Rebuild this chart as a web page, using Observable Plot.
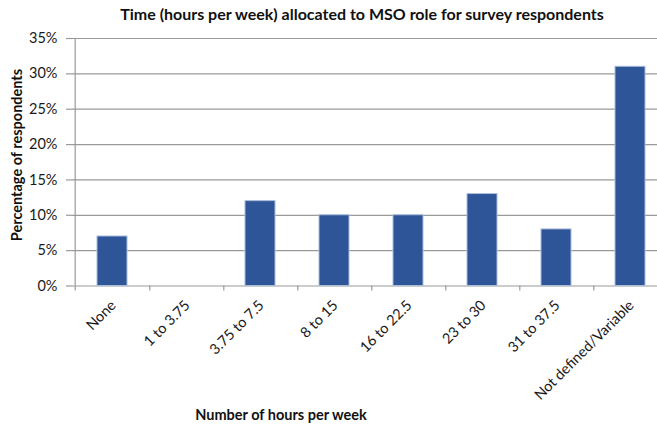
<!DOCTYPE html>
<html>
<head>
<meta charset="utf-8">
<script src="https://cdn.jsdelivr.net/npm/d3@7"></script>
<script src="https://cdn.jsdelivr.net/npm/@observablehq/plot@0.6"></script>
<style>
  html, body { margin: 0; padding: 0; background: #fff; }
  #chart svg { display: block; }
</style>
</head>
<body>
<div id="chart"></div>
<script>
const categories = ["None", "1 to 3.75", "3.75 to 7.5", "8 to 15", "16 to 22.5", "23 to 30", "31 to 37.5", "Not defined/Variable"];
const values = [0.07, 0, 0.12, 0.10, 0.10, 0.13, 0.08, 0.31];
const yTicks = [0, 0.05, 0.10, 0.15, 0.20, 0.25, 0.30, 0.35];
const titleText = "Time (hours per week) allocated to MSO role for survey respondents";
const xLabel = "Number of hours per week";
const yLabel = "Percentage of respondents";

const data = categories.map((c, i) => ({category: c, value: values[i]}));

const W = 657, H = 424;
const font = "Lato, 'Open Sans', sans-serif";
const x0 = 72, x1 = 669;
const step = (x1 - x0) / categories.length;
const grey = "#9a9a9a";

const chart = Plot.plot({
  width: W,
  height: H,
  marginLeft: 72,
  marginRight: 0,
  marginTop: 38,
  marginBottom: 138.5,
  style: {fontFamily: font, fontSize: "14.5px", color: "#1a1a1a", background: "#fff", overflow: "hidden"},
  x: {domain: categories, range: [x0, x1], paddingInner: 0.6, paddingOuter: 0.3, axis: null},
  y: {domain: [0, 0.35], ticks: yTicks, axis: null},
  marks: [
    Plot.ruleY(yTicks, {stroke: grey, strokeWidth: 1.2}),
    Plot.axisY({ticks: yTicks, tickFormat: d3.format(".0%"), tickSize: 6, tickPadding: 9, stroke: grey, strokeWidth: 1.2, label: null, fontSize: "14.5px"}),
    Plot.ruleX([categories[0]], {dx: -step / 2, y1: 0, y2: 0.35, stroke: grey, strokeWidth: 1.2}),
    Plot.axisX({tickSize: 5, dx: step / 2, tickFormat: () => "", stroke: grey, strokeWidth: 1.2, label: null}),
    Plot.axisX({ticks: [categories[0]], tickSize: 5, dx: -step / 2, tickFormat: () => "", stroke: grey, strokeWidth: 1.2, label: null}),
    Plot.axisX({tickSize: 0, tickRotate: -45, tickPadding: 17, dx: 1, label: null, fontSize: "14.5px"}),
    Plot.barY(data, {x: "category", y: "value", fill: "#2E5597", stroke: "#a9bcdc", strokeWidth: 1})
  ]
});

const svg = d3.select(chart);
svg.append("text")
  .attr("x", 362).attr("y", 20)
  .attr("text-anchor", "middle")
  .style("font-family", font).style("font-weight", "bold").style("font-size", "16px").style("fill", "#111")
  .text(titleText);
svg.append("text")
  .attr("x", 281).attr("y", 420)
  .attr("text-anchor", "middle")
  .style("font-family", font).style("font-weight", "bold").style("font-size", "14.5px").style("fill", "#111")
  .text(xLabel);
svg.append("text")
  .attr("transform", "translate(18,155) rotate(-90)")
  .attr("text-anchor", "middle")
  .attr("dominant-baseline", "middle")
  .style("font-family", font).style("font-weight", "bold").style("font-size", "14.5px").style("fill", "#111")
  .text(yLabel);

document.getElementById("chart").appendChild(chart);
</script>
</body>
</html>
